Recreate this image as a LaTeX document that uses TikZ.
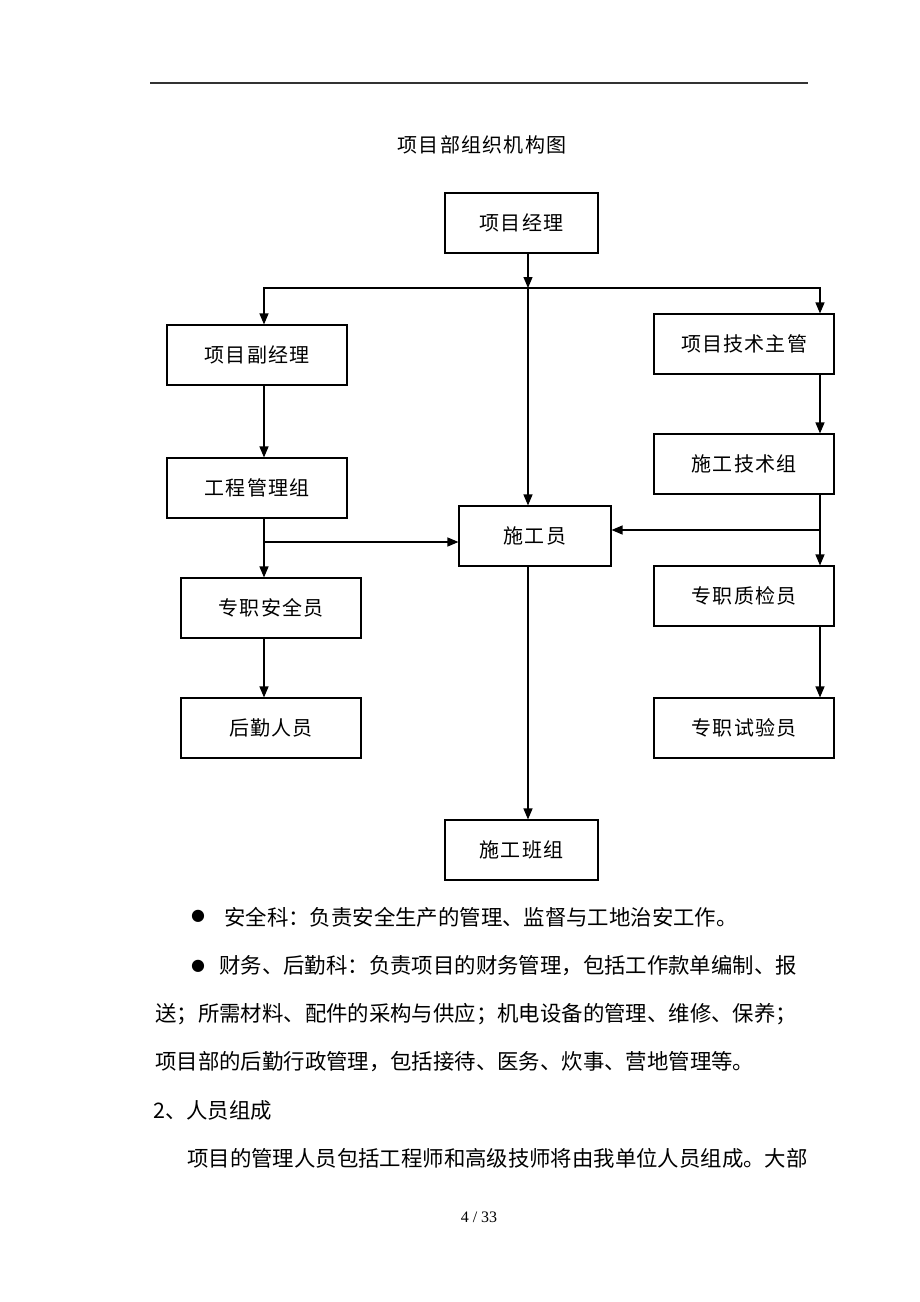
\documentclass[tikz,border=0pt]{standalone}
\usepackage{fontspec}
\setmainfont{Liberation Serif}
\newfontfamily\cjk{Noto Sans CJK SC}
\newfontfamily\cjkwide[LetterSpace=6]{Noto Sans CJK SC}
\newfontfamily\dejavu{DejaVu Sans}
\usetikzlibrary{arrows.meta}
\begin{document}
\begin{tikzpicture}[x=1pt,y=-1pt,
    box/.style={draw,line width=1.1pt,minimum width=180pt,minimum height=60pt,inner sep=0pt,
      font=\cjkwide\fontsize{20}{20}\selectfont},
    arr/.style={line width=1.2pt,-{Triangle[length=11pt,width=9pt]}},
    para/.style={anchor=west,inner sep=0pt,font=\cjk\fontsize{21.4}{21.4}\selectfont}]
  \useasboundingbox (0,0) rectangle (920,1302);
  \draw[line width=1.3pt,black!80] (150,83) -- (808,83);
  \node[inner sep=0pt,font=\cjkwide\fontsize{20}{20}\selectfont] (title) at (482,145) {项目部组织机构图};
  % boxes
  \node[box,minimum width=153pt] (pm) at (521.5,223) {项目经理};
  \node[box] (dpm) at (257,355) {项目副经理};
  \node[box] (tech) at (744,344) {项目技术主管};
  \node[box] (eng) at (257,488) {工程管理组};
  \node[box] (ctg) at (744,464) {施工技术组};
  \node[box,minimum width=152pt] (worker) at (535,536) {施工员};
  \node[box] (safe) at (271,608) {专职安全员};
  \node[box] (qc) at (744,596) {专职质检员};
  \node[box] (logi) at (271,728) {后勤人员};
  \node[box] (test) at (744,728) {专职试验员};
  \node[box,minimum width=153pt] (team) at (521.5,850) {施工班组};
  % connector columns
  \coordinate (lx) at (264,0);
  \coordinate (mx) at (528,0);
  \coordinate (rx) at (820,0);
  \coordinate (split) at (528,288);
  \coordinate (lsplit) at (264,542);
  \coordinate (rsplit) at (820,530);
  \draw[arr] (pm.south -| mx) -- (split);
  \draw[arr] (split) -| (dpm.north -| lx);
  \draw[arr] (split) -| (tech.north -| rx);
  \draw[arr] (split) -- (worker.north -| mx);
  \draw[arr] (dpm.south -| lx) -- (eng.north -| lx);
  \draw[arr] (eng.south -| lx) -- (safe.north -| lx);
  \draw[arr] (lsplit) -- (worker.west |- lsplit);
  \draw[arr] (safe.south -| lx) -- (logi.north -| lx);
  \draw[arr] (tech.south -| rx) -- (ctg.north -| rx);
  \draw[arr] (ctg.south -| rx) -- (qc.north -| rx);
  \draw[arr] (rsplit) -- (worker.east |- rsplit);
  \draw[arr] (qc.south -| rx) -- (test.north -| rx);
  \draw[arr] (worker.south -| mx) -- (team.north -| mx);
  % text below
  \node[inner sep=0pt,font=\dejavu\fontsize{16}{16}\selectfont] (b1) at (198,916) {●};
  \node[para] (l1) at (224,917) {安全科：负责安全生产的管理、监督与工地治安工作。};
  \node[inner sep=0pt,font=\dejavu\fontsize{16}{16}\selectfont] (b2) at (198,966) {●};
  \node[para] (l2) at (219,966) {财务、后勤科：负责项目的财务管理，包括工作款单编制、报};
  \node[para] (l3) at (155,1014) {送；所需材料、配件的采构与供应；机电设备的管理、维修、保养；};
  \node[para] (l4) at (155,1062) {项目部的后勤行政管理，包括接待、医务、炊事、营地管理等。};
  \node[para] (l5) at (153,1110) {2、人员组成};
  \node[para] (l6) at (187,1158) {项目的管理人员包括工程师和高级技师将由我单位人员组成。大部};
  \node[inner sep=0pt,font=\fontsize{16}{16}\selectfont] (page) at (479,1217) {4 / 33};
\end{tikzpicture}
\end{document}
